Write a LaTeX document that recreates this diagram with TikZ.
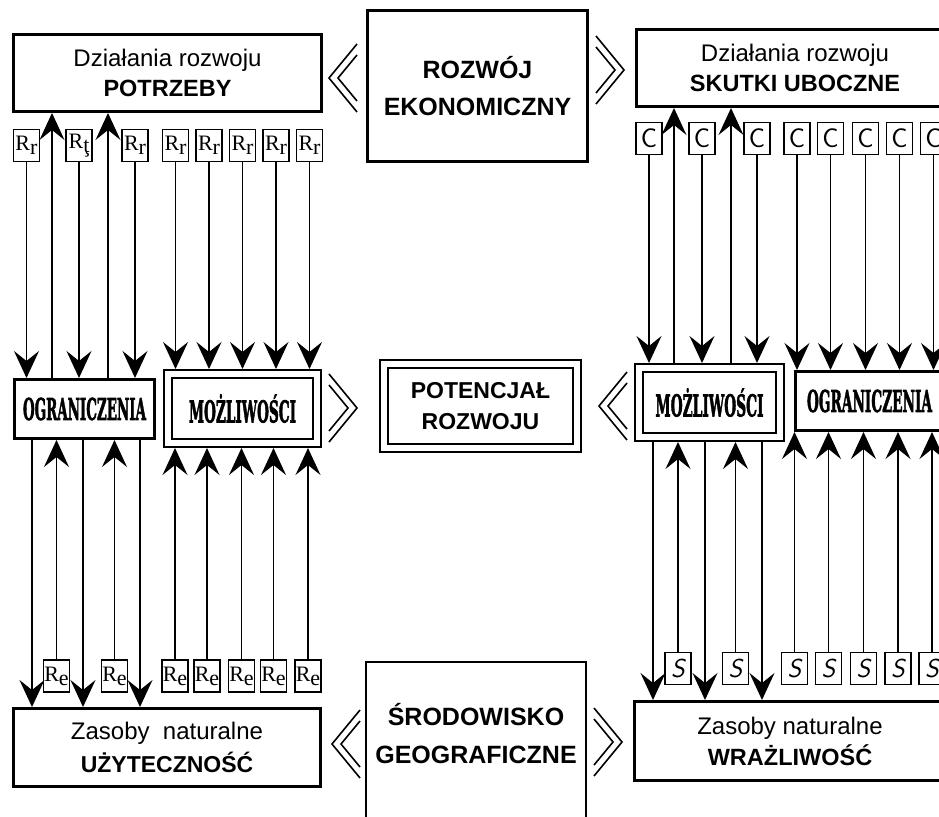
\documentclass[tikz,border=0pt]{standalone}
\usepackage{fontspec}
\usepackage{graphicx}
\usetikzlibrary{arrows.meta}
\newfontfamily\arialf{Liberation Sans}
\newfontfamily\timesf{Liberation Serif}
\newfontfamily\slabf[BoldFeatures={FakeBold=2.5}]{DejaVu Serif}
\newcommand\slabword[2]{\resizebox{#1}{\height}{\slabf\bfseries\fontsize{30}{30}\selectfont #2}}
\newcommand\Rsub[1]{R\raisebox{-4pt}{#1}}
\begin{document}
\begin{tikzpicture}[x=1pt,y=-1pt,
 bigbox/.style={draw, line width=2.6pt, inner sep=0pt, align=center, font=\arialf\fontsize{24}{30}\selectfont},
 dbox/.style={draw, line width=2.2pt, double distance=6pt, outer sep=5.2pt, inner sep=0pt, align=center},
 rbox/.style={draw, line width=1.6pt, minimum width=26pt, minimum height=32pt, inner sep=0pt, font=\timesf\fontsize{22}{22}\selectfont},
 cbox/.style={rbox, font=\sffamily\fontsize{27}{27}\selectfont},
 sbox/.style={rbox, font=\sffamily\itshape\fontsize{26}{26}\selectfont},
 arr/.style={line width=1.4pt, -{Stealth[length=27pt,width=25pt,inset=10pt]}},
 chevline/.style={line width=1.6pt},
 chevron/.pic={\draw[chevline] (14,-34) -- (-14,0) -- (14,34); \draw[chevline] (14,-23) -- (-5,0) -- (14,23);}
]
\clip (0,0) rectangle (939,816);
\fill[white] (0,0) rectangle (939,816);

% ---- top row
\node[bigbox, minimum width=308.4pt, minimum height=77.4pt] (potr) at (167.5,73) {Działania rozwoju\\{\fontsize{23.5}{30}\selectfont\bfseries POTRZEBY}};
\node[bigbox, minimum width=220.4pt, minimum height=151.4pt, font=\arialf\bfseries\fontsize{25}{37}\selectfont] (rozw) at (477.5,86) {ROZWÓJ\\EKONOMICZNY};
\node[bigbox, minimum width=317pt, minimum height=77.4pt] (skut) at (795,68) {Działania rozwoju\\{\fontsize{23.5}{30}\selectfont\bfseries SKUTKI UBOCZNE}};

% ---- middle row
\node[bigbox, minimum width=140.4pt, minimum height=59.4pt] (ogl) at (84.5,409) {\slabword{123pt}{OGRANICZENIA}};
\node[dbox, minimum width=148.6pt, minimum height=68.6pt] (mozl) at (242.5,408.5) {\slabword{107pt}{MOŻLIWOŚCI}};
\node[dbox, minimum width=192.6pt, minimum height=83.6pt, font=\arialf\bfseries\fontsize{23}{31}\selectfont] (pot) at (480.5,406) {POTENCJAŁ\\ROZWOJU};
\node[dbox, minimum width=140.6pt, minimum height=68.6pt] (mozr) at (709.5,402.5) {\slabword{108pt}{MOŻLIWOŚCI}};
\node[bigbox, minimum width=148.4pt, minimum height=59.4pt] (ogr) at (869.5,401) {\slabword{125pt}{OGRANICZENIA}};

% ---- bottom row
\node[bigbox, minimum width=307.4pt, minimum height=78.4pt, font=\arialf\fontsize{24}{33}\selectfont] (zasl) at (167,747.5) {Zasoby~ naturalne\\{\fontsize{23}{33}\selectfont\bfseries UŻYTECZNOŚĆ}};
\node[align=center, inner sep=0pt, minimum width=219.4pt, minimum height=144pt, font=\arialf\bfseries\fontsize{25}{38}\selectfont] (srod) at (476,734) {ŚRODOWISKO\\GEOGRAFICZNE};
\draw[line width=2.6pt] (srod.south west |- 0,830) -- (srod.north west) -- (srod.north east) -- (srod.south east |- 0,830);
\node[bigbox, minimum width=311.4pt, minimum height=79.4pt, font=\arialf\fontsize{24}{31}\selectfont] (zasr) at (790,741) {Zasoby naturalne\\{\fontsize{23.5}{31}\selectfont\bfseries WRAŻLIWOŚĆ}};

% ---- small boxes left top
\foreach \i/\x/\t in {1/26.5/r,2/79/ţ,3/135/r,4/175.5/r,5/209/r,6/242.5/r,7/276/r,8/309.5/r}
  \node[rbox] (rr\i) at (\x,145.5) {\Rsub{\t}};
% left bottom
\foreach \i/\x in {1/56.5,2/114.5,3/175,4/207,5/241.5,6/273.5,7/308}
  \node[rbox] (re\i) at (\x,676) {\Rsub{e}};
% right top
\foreach \i/\x in {1/649,2/702,3/757,4/797,5/830.5,6/865.5,7/899.5,8/933.5}
  \node[cbox] (c\i) at (\x,138.5) {C};
% right bottom
\foreach \i/\x in {1/678,2/735.5,3/794.5,4/828.5,5/863.5,6/898,7/932}
  \node[sbox] (s\i) at (\x,668.5) {S};

% ---- connectors left
\foreach \i in {1,2,3} \draw[arr] (rr\i) -- (rr\i |- ogl.north);
\foreach \i in {4,...,8} \draw[arr] (rr\i) -- (rr\i |- mozl.north);
\foreach \x in {52,108} \draw[arr] (ogl.north -| \x,0) -- (potr.south -| \x,0);
\foreach \x in {32,83,140} \draw[arr] (ogl.south -| \x,0) -- (zasl.north -| \x,0);
\foreach \i in {1,2} \draw[arr] (re\i) -- (re\i |- ogl.south);
\foreach \i in {3,...,7} \draw[arr] (re\i) -- (re\i |- mozl.south);

% ---- connectors right
\foreach \i in {1,2,3} \draw[arr] (c\i) -- (c\i |- mozr.north);
\foreach \i in {4,...,8} \draw[arr] (c\i) -- (c\i |- ogr.north);
\foreach \x in {674,731} \draw[arr] (mozr.north -| \x,0) -- (skut.south -| \x,0);
\foreach \x in {653,705,762} \draw[arr] (mozr.south -| \x,0) -- (zasr.north -| \x,0);
\foreach \i in {1,2} \draw[arr] (s\i) -- (s\i |- mozr.south);
\foreach \i in {3,...,7} \draw[arr] (s\i) -- (s\i |- ogr.south);

% ---- chevrons
\pic at (343,78) {chevron};
\pic[xscale=-1] at (610,70) {chevron};
\pic[xscale=-1] at (343,408) {chevron};
\pic at (613,406) {chevron};
\pic at (346,744) {chevron};
\pic[xscale=-1] at (608,742) {chevron};
\end{tikzpicture}
\end{document}
